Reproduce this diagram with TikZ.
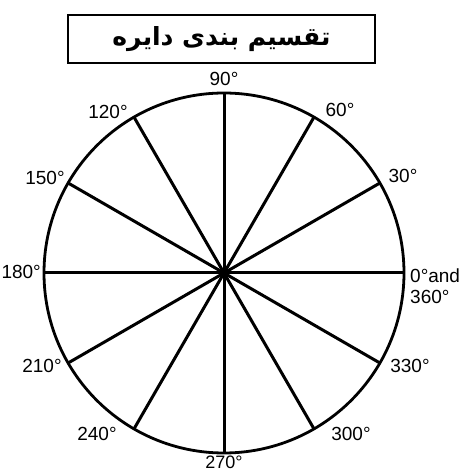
\documentclass[tikz,border=0pt]{standalone}
\usepackage{fontspec}
\setmainfont{Liberation Sans}
\newfontfamily\farsifont[Script=Arabic]{DejaVu Sans}
\TeXXeTstate=1

\begin{document}
\begin{tikzpicture}[x=1pt,y=1pt,
  etiq/.style={inner sep=0pt,font=\fontsize{19}{21}\selectfont},
  borde/.style={line width=2.8pt}]

\useasboundingbox (0,0) rectangle (466,472);

% Titulo
\node[borde,draw,minimum width=307pt,minimum height=48pt,inner sep=0pt] (titulo) at (221.5,433)
  {\farsifont\bfseries\fontsize{25}{28}\selectfont\beginR تقسیم بندی دایره\endR};

% Circulo
\coordinate (O) at (224,199);
\draw[borde] (O) circle[radius=180pt];

% Radios
\foreach \a in {0,30,...,330} {
  \coordinate (p\a) at ([shift={(\a:180)}]O);
  \draw[line width=3pt] (O) -- (p\a);
}

% Grados
\node[etiq] (l90) at (224,393) {90°};
\node[etiq] (l60) at (340,362) {60°};
\node[etiq] (l30) at (403,296) {30°};
\node[etiq,anchor=west,align=left] (l0) at (410,186) {0°and\\360°};
\node[etiq] (l330) at (410,106) {330°};
\node[etiq] (l300) at (351,38) {300°};
\node[etiq,anchor=south,font=\fontsize{18}{20}\selectfont] (l270) at (224,3) {270°};
\node[etiq] (l240) at (97,38) {240°};
\node[etiq] (l210) at (42,106) {210°};
\node[etiq,anchor=east] (l180) at (41,200) {180°};
\node[etiq] (l150) at (45,294) {150°};
\node[etiq] (l120) at (108,360) {120°};

\end{tikzpicture}
\end{document}
